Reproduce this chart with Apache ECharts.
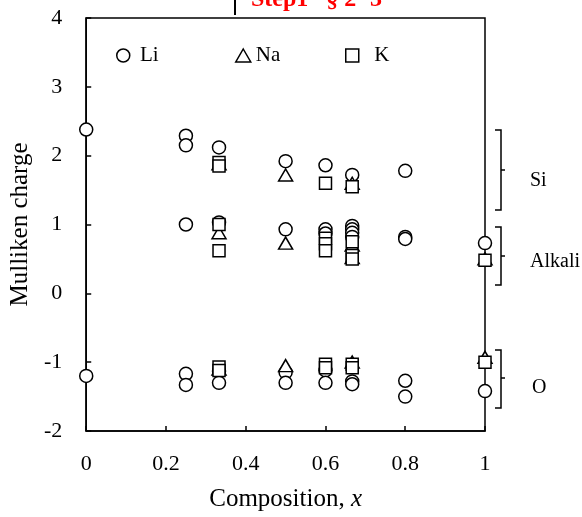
<!DOCTYPE html>
<html><head><meta charset="utf-8">
<script src="https://cdn.jsdelivr.net/npm/echarts@6/dist/echarts.min.js"></script>
<style>html,body{margin:0;padding:0;background:#fff}#c{width:582px;height:517px}</style>
</head><body><div id="c"></div>
<script>
const xTicks = [0, 0.2, 0.4, 0.6, 0.8, 1];
const yTicks = [-2, -1, 0, 1, 2, 3, 4];

const liX = [0, 0, 0.25, 0.25, 0.25, 0.25, 0.25, 0.333, 0.333, 0.333, 0.333, 0.5, 0.5, 0.5, 0.5, 0.6, 0.6, 0.6, 0.6, 0.6, 0.667, 0.667, 0.667, 0.667, 0.667, 0.667, 0.667, 0.8, 0.8, 0.8, 0.8, 0.8, 1, 1];
const liY = [2.38, -1.2, 2.29, 2.15, 1.0, -1.17, -1.33, 2.12, 1.03, -1.13, -1.3, 1.92, 0.93, -1.15, -1.3, 1.86, 0.93, 0.87, -1.12, -1.3, 1.72, 0.98, 0.93, 0.88, 0.82, -1.28, -1.32, 1.78, 0.82, 0.79, -1.27, -1.5, 0.73, -1.42];

const naX = [0.333, 0.333, 0.333, 0.5, 0.5, 0.5, 0.667, 0.667, 0.667, 0.667, 1, 1];
const naY = [1.88, 0.88, -1.1, 1.72, 0.73, -1.05, 1.6, 0.7, 0.52, -1.0, 0.5, -0.93];

const kX = [0.333, 0.333, 0.333, 0.333, 0.333, 0.333, 0.6, 0.6, 0.6, 0.6, 0.6, 0.6, 0.667, 0.667, 0.667, 0.667, 0.667, 0.667, 1, 1];
const kY = [1.9, 1.85, 1.0, 0.62, -1.07, -1.12, 1.6, 0.8, 0.72, 0.62, -1.03, -1.08, 1.55, 0.75, 0.55, 0.5, -1.03, -1.08, 0.48, -1.0];

const groupLabels = ['Si', 'Alkali', 'O'];

const FONT = 'Liberation Serif';
const zip = (xs, ys) => xs.map((x, i) => [x, ys[i]]);
const openStyle = { color: '#fff', borderColor: '#000', borderWidth: 1.5, opacity: 1 };

const chart = echarts.init(document.getElementById('c'), null, { renderer: 'canvas' });

function bracket(y0, y1) {
  return {
    type: 'polyline', silent: true,
    shape: { points: [[495, y0], [501, y0], [501, y1], [495, y1]] },
    style: { stroke: '#000', lineWidth: 1.5, fill: null }
  };
}
function tick(y) {
  return { type: 'line', silent: true, shape: { x1: 501, y1: y, x2: 505, y2: y }, style: { stroke: '#000', lineWidth: 1.5 } };
}
function label(text, x, y) {
  return { type: 'text', silent: true, style: { text, x, y, font: '20px "' + FONT + '"', fill: '#000', textVerticalAlign: 'middle' } };
}

chart.setOption({
  animation: false,
  backgroundColor: '#fff',
  grid: { left: 86, right: 97, top: 18, bottom: 85, show: true, borderColor: '#000', borderWidth: 1.5 },
  xAxis: {
    type: 'value', min: 0, max: 1, interval: 0.2,
    axisLine: { onZero: false, lineStyle: { color: '#000', width: 1.5 } },
    axisTick: { inside: true, length: 5, lineStyle: { color: '#000', width: 1.5 } },
    splitLine: { show: false },
    axisLabel: { color: '#000', fontFamily: FONT, fontSize: 22, margin: 22,
      formatter: v => { const t = xTicks.find(a => Math.abs(a - v) < 1e-9); return t === undefined ? '' : String(t); } },
    name: '{a|Composition, }{b|x}', nameLocation: 'middle', nameGap: 56,
    nameTextStyle: { rich: { a: { fontFamily: FONT, fontSize: 25, color: '#000' }, b: { fontFamily: FONT, fontSize: 25, fontStyle: 'italic', color: '#000' } } }
  },
  yAxis: {
    type: 'value', min: -2, max: 4, interval: 1,
    axisLine: { onZero: false, lineStyle: { color: '#000', width: 1.5 } },
    axisTick: { inside: true, length: 5, lineStyle: { color: '#000', width: 1.5 } },
    splitLine: { show: false },
    axisLabel: { color: '#000', fontFamily: FONT, fontSize: 22, margin: 24,
      formatter: v => { const t = yTicks.find(a => Math.abs(a - v) < 1e-9); return t === undefined ? '' : String(t); } },
    name: 'Mulliken charge', nameLocation: 'middle', nameGap: 49,
    nameTextStyle: { fontFamily: FONT, fontSize: 25, color: '#000' }
  },
  legend: [
    { data: ['Li'], left: 111, top: 40, itemWidth: 13, itemHeight: 13, textStyle: { fontFamily: FONT, fontSize: 21, color: '#000' }, itemStyle: openStyle, formatter: n => ' ' + n },
    { data: ['Na'], left: 230, top: 40, itemWidth: 15, itemHeight: 13, textStyle: { fontFamily: FONT, fontSize: 21, color: '#000' }, itemStyle: openStyle },
    { data: ['K'], left: 340, top: 40, itemWidth: 13, itemHeight: 13, textStyle: { fontFamily: FONT, fontSize: 21, color: '#000' }, itemStyle: openStyle, formatter: n => '  ' + n }
  ],
  series: [
    { name: 'Li', type: 'scatter', symbol: 'circle', symbolSize: 13, data: zip(liX, liY), itemStyle: openStyle, z: 3 },
    { name: 'Na', type: 'scatter', symbol: 'triangle', symbolSize: [14, 12], data: zip(naX, naY), itemStyle: openStyle, z: 4 },
    { name: 'K', type: 'scatter', symbol: 'rect', symbolSize: 12, data: zip(kX, kY), itemStyle: openStyle, z: 5 }
  ],
  graphic: [
    { type: 'line', silent: true, shape: { x1: 235, y1: 0, x2: 235, y2: 15 }, style: { stroke: '#000', lineWidth: 2 } },
    { type: 'text', silent: true, style: { text: 'Step1   § 2−3', x: 251, y: 12, font: 'bold 24px "' + FONT + '"', fill: '#ff0000', textVerticalAlign: 'bottom' } },
    bracket(130, 210), tick(170),
    bracket(227, 285), tick(256),
    bracket(350, 408), tick(378),
    label(groupLabels[0], 530, 181),
    label(groupLabels[1], 530, 262),
    label(groupLabels[2], 532, 388)
  ]
});
</script></body></html>
